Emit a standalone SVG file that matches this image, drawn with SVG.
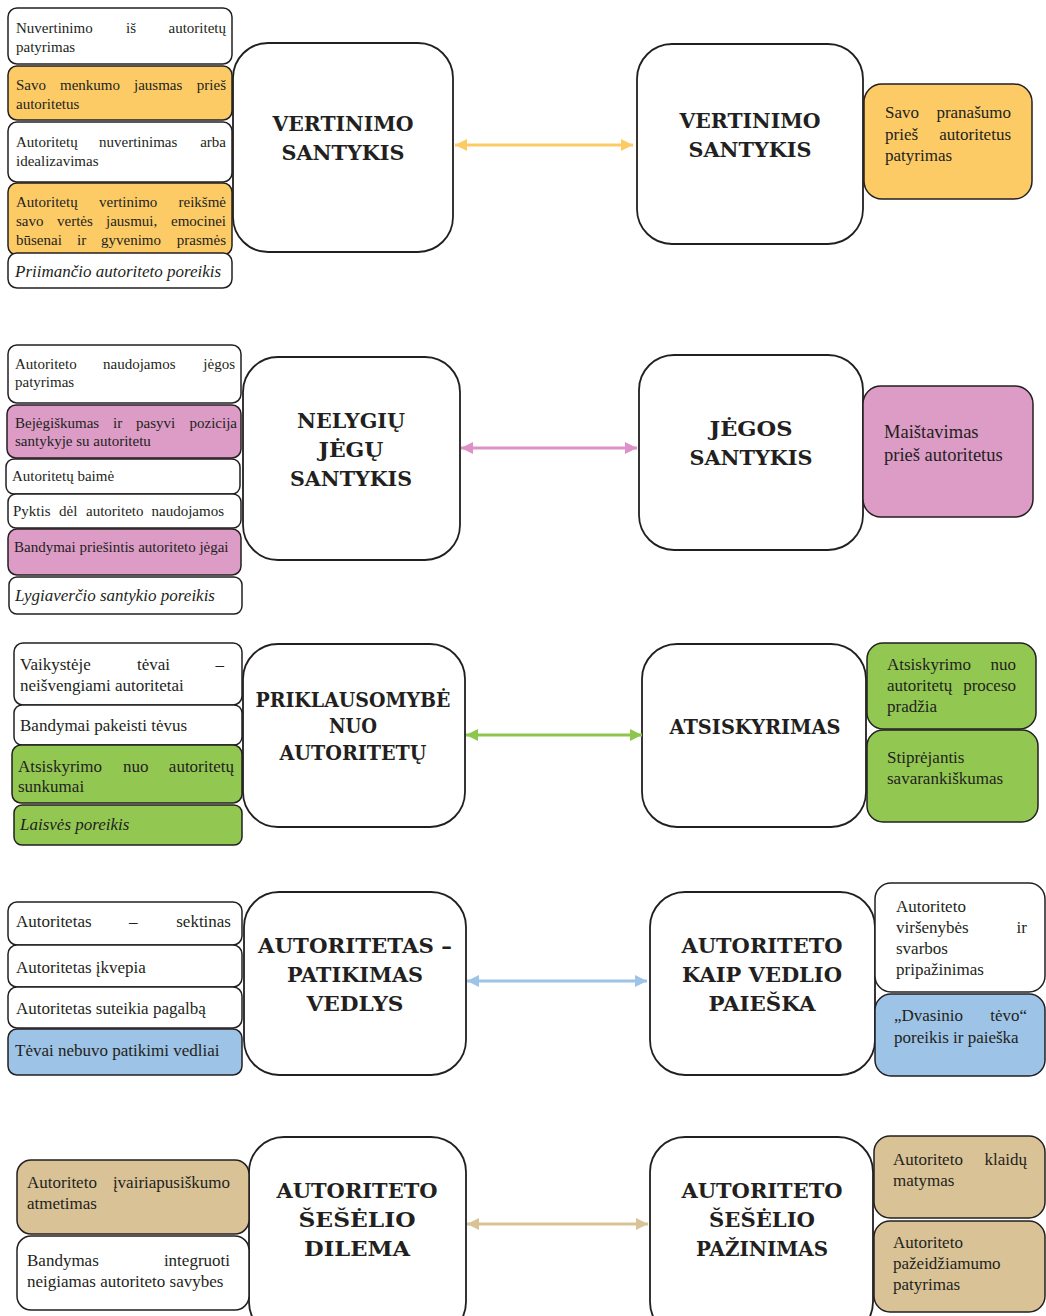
<svg xmlns="http://www.w3.org/2000/svg" width="1046" height="1316" viewBox="0 0 1046 1316">
<style>
.bx{stroke:#231f20;stroke-width:1.5}
.big{fill:#fff;stroke:#231f20;stroke-width:1.8}
.w{fill:#fff}
.o{fill:#fdcb66}
.p{fill:#dc9cc6}
.g{fill:#92c852}
.b{fill:#9dc3e6}
.n{fill:#d9c396}
.t15{font-family:"Liberation Serif",serif;font-size:15px;fill:#231f20}
.t17{font-family:"Liberation Serif",serif;font-size:17px;fill:#231f20}
.t18{font-family:"Liberation Serif",serif;font-size:18.5px;fill:#231f20}
.i17{font-family:"Liberation Serif",serif;font-size:17px;font-style:italic;fill:#231f20}
.e{text-anchor:end}
.h{font-family:"DejaVu Serif",serif;font-weight:bold;font-size:20px;fill:#231f20;text-anchor:middle}
.a{stroke-width:3;fill:none}
</style>
<defs>
<marker id="mo" markerUnits="userSpaceOnUse" markerWidth="12" markerHeight="12" refX="12" refY="6" orient="auto-start-reverse"><path d="M0,0 L12,6 L0,12 z" fill="#fdcb66"/></marker>
<marker id="mp" markerUnits="userSpaceOnUse" markerWidth="12" markerHeight="12" refX="12" refY="6" orient="auto-start-reverse"><path d="M0,0 L12,6 L0,12 z" fill="#dc92c6"/></marker>
<marker id="mg" markerUnits="userSpaceOnUse" markerWidth="12" markerHeight="12" refX="12" refY="6" orient="auto-start-reverse"><path d="M0,0 L12,6 L0,12 z" fill="#8dc64c"/></marker>
<marker id="mb" markerUnits="userSpaceOnUse" markerWidth="12" markerHeight="12" refX="12" refY="6" orient="auto-start-reverse"><path d="M0,0 L12,6 L0,12 z" fill="#9dc3e6"/></marker>
<marker id="mn" markerUnits="userSpaceOnUse" markerWidth="12" markerHeight="12" refX="12" refY="6" orient="auto-start-reverse"><path d="M0,0 L12,6 L0,12 z" fill="#d9c396"/></marker>
</defs>
<rect width="1046" height="1316" fill="#fff"/>

<!-- big central nodes -->
<g id="n-vertinimo-l"><rect class="big" x="233" y="43" width="220" height="209" rx="35"/>
<text class="h" x="343" y="131" textLength="141" lengthAdjust="spacingAndGlyphs">VERTINIMO</text>
<text class="h" x="343" y="160" textLength="123" lengthAdjust="spacingAndGlyphs">SANTYKIS</text></g>
<g id="n-vertinimo-r"><rect class="big" x="637" y="44" width="226" height="200" rx="35"/>
<text class="h" x="750" y="128" textLength="141" lengthAdjust="spacingAndGlyphs">VERTINIMO</text>
<text class="h" x="750" y="157" textLength="123" lengthAdjust="spacingAndGlyphs">SANTYKIS</text></g>

<g id="n-nelygiu"><rect class="big" x="243" y="357" width="217" height="203" rx="35"/>
<text class="h" x="351" y="428" textLength="108" lengthAdjust="spacingAndGlyphs">NELYGIŲ</text>
<text class="h" x="351" y="457" textLength="65" lengthAdjust="spacingAndGlyphs">JĖGŲ</text>
<text class="h" x="351" y="486" textLength="122" lengthAdjust="spacingAndGlyphs">SANTYKIS</text></g>
<g id="n-jegos"><rect class="big" x="639" y="355" width="224" height="195" rx="35"/>
<text class="h" x="751" y="436" textLength="83" lengthAdjust="spacingAndGlyphs">JĖGOS</text>
<text class="h" x="751" y="465" textLength="123" lengthAdjust="spacingAndGlyphs">SANTYKIS</text></g>

<g id="n-priklausomybe"><rect class="big" x="243" y="644" width="222" height="183" rx="35"/>
<text class="h" x="353" y="707" textLength="195" lengthAdjust="spacingAndGlyphs">PRIKLAUSOMYBĖ</text>
<text class="h" x="353" y="733" textLength="48" lengthAdjust="spacingAndGlyphs">NUO</text>
<text class="h" x="353" y="760" textLength="147" lengthAdjust="spacingAndGlyphs">AUTORITETŲ</text></g>
<g id="n-atsiskyrimas"><rect class="big" x="642" y="644" width="224" height="183" rx="35"/>
<text class="h" x="755" y="734" textLength="171" lengthAdjust="spacingAndGlyphs">ATSISKYRIMAS</text></g>

<g id="n-patikimas"><rect class="big" x="244" y="892" width="222" height="183" rx="35"/>
<text class="h" x="355" y="953" textLength="194" lengthAdjust="spacingAndGlyphs">AUTORITETAS –</text>
<text class="h" x="355" y="982" textLength="136" lengthAdjust="spacingAndGlyphs">PATIKIMAS</text>
<text class="h" x="355" y="1011" textLength="97" lengthAdjust="spacingAndGlyphs">VEDLYS</text></g>
<g id="n-vedlio"><rect class="big" x="650" y="892" width="225" height="183" rx="35"/>
<text class="h" x="762" y="953" textLength="161" lengthAdjust="spacingAndGlyphs">AUTORITETO</text>
<text class="h" x="762" y="982" textLength="160" lengthAdjust="spacingAndGlyphs">KAIP VEDLIO</text>
<text class="h" x="762" y="1011" textLength="107" lengthAdjust="spacingAndGlyphs">PAIEŠKA</text></g>

<g id="n-dilema"><rect class="big" x="249" y="1137" width="217" height="200" rx="35"/>
<text class="h" x="357" y="1198" textLength="161" lengthAdjust="spacingAndGlyphs">AUTORITETO</text>
<text class="h" x="357" y="1227" textLength="117" lengthAdjust="spacingAndGlyphs">ŠEŠĖLIO</text>
<text class="h" x="357" y="1256" textLength="106" lengthAdjust="spacingAndGlyphs">DILEMA</text></g>
<g id="n-pazinimas"><rect class="big" x="650" y="1137" width="223" height="200" rx="35"/>
<text class="h" x="762" y="1198" textLength="161" lengthAdjust="spacingAndGlyphs">AUTORITETO</text>
<text class="h" x="762" y="1227" textLength="106" lengthAdjust="spacingAndGlyphs">ŠEŠĖLIO</text>
<text class="h" x="762" y="1256" textLength="132" lengthAdjust="spacingAndGlyphs">PAŽINIMAS</text></g>

<!-- row 1 left -->
<g id="r1-l1"><rect class="bx w" x="8" y="8" width="224" height="56" rx="9"/>
<text class="t15" x="16" y="33">Nuvertinimo</text><text class="t15" x="126" y="33">iš</text><text class="t15 e" x="226" y="33">autoritetų</text>
<text class="t15" x="16" y="52">patyrimas</text></g>
<g id="r1-l2"><rect class="bx o" x="8" y="66" width="224" height="54" rx="9"/>
<text class="t15" x="16" y="90">Savo</text><text class="t15" x="60" y="90">menkumo</text><text class="t15" x="134" y="90">jausmas</text><text class="t15 e" x="226" y="90">prieš</text>
<text class="t15" x="16" y="109">autoritetus</text></g>
<g id="r1-l3"><rect class="bx w" x="8" y="122" width="224" height="60" rx="9"/>
<text class="t15" x="16" y="147">Autoritetų</text><text class="t15" x="99" y="147">nuvertinimas</text><text class="t15 e" x="226" y="147">arba</text>
<text class="t15" x="16" y="166">idealizavimas</text></g>
<g id="r1-l4"><rect class="bx o" x="8" y="183" width="224" height="72" rx="9"/>
<text class="t15" x="16" y="207">Autoritetų</text><text class="t15" x="99" y="207">vertinimo</text><text class="t15 e" x="226" y="207">reikšmė</text>
<text class="t15" x="16" y="226">savo</text><text class="t15" x="57" y="226">vertės</text><text class="t15" x="106" y="226">jausmui,</text><text class="t15 e" x="226" y="226">emocinei</text>
<text class="t15" x="16" y="245">būsenai</text><text class="t15" x="77" y="245">ir</text><text class="t15" x="101" y="245">gyvenimo</text><text class="t15 e" x="226" y="245">prasmės</text></g>
<g id="r1-l5"><rect class="bx w" x="8" y="253" width="224" height="35" rx="9"/>
<text class="i17" x="15" y="277">Priimančio autoriteto poreikis</text></g>
<!-- row 1 right -->
<g id="r1-r1"><rect class="bx o" x="864" y="84" width="168" height="115" rx="18"/>
<text class="t17" x="885" y="118">Savo</text><text class="t17 e" x="1011" y="118">pranašumo</text>
<text class="t17" x="885" y="140">prieš</text><text class="t17 e" x="1011" y="140">autoritetus</text>
<text class="t17" x="885" y="161">patyrimas</text></g>

<!-- row 2 left -->
<g id="r2-l1"><rect class="bx w" x="8" y="345" width="233" height="58" rx="9"/>
<text class="t15" x="15" y="369">Autoriteto</text><text class="t15" x="103" y="369">naudojamos</text><text class="t15 e" x="235" y="369">jėgos</text>
<text class="t15" x="15" y="387">patyrimas</text></g>
<g id="r2-l2"><rect class="bx p" x="7" y="405" width="234" height="53" rx="9"/>
<text class="t15" x="15" y="428">Bejėgiškumas</text><text class="t15" x="113" y="428">ir</text><text class="t15" x="136" y="428">pasyvi</text><text class="t15 e" x="237" y="428">pozicija</text>
<text class="t15" x="15" y="446">santykyje su autoritetu</text></g>
<g id="r2-l3"><rect class="bx w" x="6" y="459" width="234" height="35" rx="8"/>
<text class="t15" x="12" y="481">Autoritetų baimė</text></g>
<g id="r2-l4"><rect class="bx w" x="8" y="494" width="233" height="34" rx="8"/>
<text class="t15" x="13" y="516">Pyktis</text><text class="t15" x="59" y="516">dėl</text><text class="t15" x="86" y="516">autoriteto</text><text class="t15 e" x="224" y="516">naudojamos</text></g>
<g id="r2-l5"><rect class="bx p" x="8" y="529" width="233" height="46" rx="9"/>
<text class="t15" x="14" y="552">Bandymai priešintis autoriteto jėgai</text></g>
<g id="r2-l6"><rect class="bx w" x="9" y="577" width="233" height="37" rx="8"/>
<text class="i17" x="15" y="601">Lygiaverčio santykio poreikis</text></g>
<!-- row 2 right -->
<g id="r2-r1"><rect class="bx p" x="863" y="386" width="170" height="131" rx="18"/>
<text class="t18" x="884" y="438">Maištavimas</text>
<text class="t18" x="884" y="461">prieš autoritetus</text></g>

<!-- row 3 left -->
<g id="r3-l1"><rect class="bx w" x="14" y="643" width="228" height="62" rx="9"/>
<text class="t17" x="20" y="670">Vaikystėje</text><text class="t17" x="137" y="670">tėvai</text><text class="t17 e" x="224" y="670">–</text>
<text class="t17" x="20" y="691">neišvengiami autoritetai</text></g>
<g id="r3-l2"><rect class="bx w" x="14" y="705" width="228" height="40" rx="8"/>
<text class="t17" x="20" y="731">Bandymai pakeisti tėvus</text></g>
<g id="r3-l3"><rect class="bx g" x="12" y="745" width="230" height="58" rx="9"/>
<text class="t17" x="18" y="772">Atsiskyrimo</text><text class="t17" x="123" y="772">nuo</text><text class="t17 e" x="234" y="772">autoritetų</text>
<text class="t17" x="18" y="792">sunkumai</text></g>
<g id="r3-l4"><rect class="bx g" x="14" y="805" width="228" height="40" rx="8"/>
<text class="i17" x="20" y="830">Laisvės poreikis</text></g>
<!-- row 3 right -->
<g id="r3-r1"><rect class="bx g" x="867" y="643" width="169" height="86" rx="16"/>
<text class="t17" x="887" y="670">Atsiskyrimo</text><text class="t17 e" x="1016" y="670">nuo</text>
<text class="t17" x="887" y="691">autoritetų</text><text class="t17 e" x="1016" y="691">proceso</text>
<text class="t17" x="887" y="712">pradžia</text></g>
<g id="r3-r2"><rect class="bx g" x="867" y="730" width="171" height="92" rx="16"/>
<text class="t17" x="887" y="763">Stiprėjantis</text>
<text class="t17" x="887" y="784">savarankiškumas</text></g>

<!-- row 4 left -->
<g id="r4-l1"><rect class="bx w" x="8" y="902" width="234" height="43" rx="9"/>
<text class="t17" x="16" y="927">Autoritetas</text><text class="t17" x="129" y="927">–</text><text class="t17 e" x="231" y="927">sektinas</text></g>
<g id="r4-l2"><rect class="bx w" x="8" y="945" width="234" height="42" rx="9"/>
<text class="t17" x="16" y="973">Autoritetas įkvepia</text></g>
<g id="r4-l3"><rect class="bx w" x="8" y="987" width="234" height="41" rx="9"/>
<text class="t17" x="16" y="1014">Autoritetas suteikia pagalbą</text></g>
<g id="r4-l4"><rect class="bx b" x="8" y="1029" width="234" height="46" rx="9"/>
<text class="t17" x="15" y="1056">Tėvai nebuvo patikimi vedliai</text></g>
<!-- row 4 right -->
<g id="r4-r1"><rect class="bx w" x="875" y="883" width="170" height="109" rx="16"/>
<text class="t17" x="896" y="912">Autoriteto</text>
<text class="t17" x="896" y="933">viršenybės</text><text class="t17 e" x="1027" y="933">ir</text>
<text class="t17" x="896" y="954">svarbos</text>
<text class="t17" x="896" y="975">pripažinimas</text></g>
<g id="r4-r2"><rect class="bx b" x="875" y="994" width="170" height="82" rx="16"/>
<text class="t17" x="894" y="1021">„Dvasinio</text><text class="t17 e" x="1027" y="1021">tėvo“</text>
<text class="t17" x="894" y="1043">poreikis ir paieška</text></g>

<!-- row 5 left -->
<g id="r5-l1"><rect class="bx n" x="17" y="1160" width="232" height="74" rx="14"/>
<text class="t17" x="27" y="1188">Autoriteto</text><text class="t17 e" x="230" y="1188">įvairiapusiškumo</text>
<text class="t17" x="27" y="1209">atmetimas</text></g>
<g id="r5-l2"><rect class="bx w" x="17" y="1236" width="232" height="74" rx="14"/>
<text class="t17" x="27" y="1266">Bandymas</text><text class="t17 e" x="230" y="1266">integruoti</text>
<text class="t17" x="27" y="1287">neigiamas autoriteto savybes</text></g>
<!-- row 5 right -->
<g id="r5-r1"><rect class="bx n" x="874" y="1136" width="171" height="82" rx="16"/>
<text class="t17" x="893" y="1165">Autoriteto</text><text class="t17 e" x="1027" y="1165">klaidų</text>
<text class="t17" x="893" y="1186">matymas</text></g>
<g id="r5-r2"><rect class="bx n" x="874" y="1221" width="171" height="91" rx="16"/>
<text class="t17" x="893" y="1248">Autoriteto</text>
<text class="t17" x="893" y="1269">pažeidžiamumo</text>
<text class="t17" x="893" y="1290">patyrimas</text></g>

<!-- connectors -->
<g id="connectors">
<line class="a" x1="455" y1="145" x2="633" y2="145" stroke="#fdcb66" marker-start="url(#mo)" marker-end="url(#mo)"/>
<line class="a" x1="461" y1="448" x2="637" y2="448" stroke="#dc92c6" marker-start="url(#mp)" marker-end="url(#mp)"/>
<line class="a" x1="466" y1="735" x2="642" y2="735" stroke="#8dc64c" marker-start="url(#mg)" marker-end="url(#mg)"/>
<line class="a" x1="467" y1="981" x2="647" y2="981" stroke="#9dc3e6" marker-start="url(#mb)" marker-end="url(#mb)"/>
<line class="a" x1="467" y1="1224" x2="648" y2="1224" stroke="#d9c396" marker-start="url(#mn)" marker-end="url(#mn)"/>
</g>
</svg>
